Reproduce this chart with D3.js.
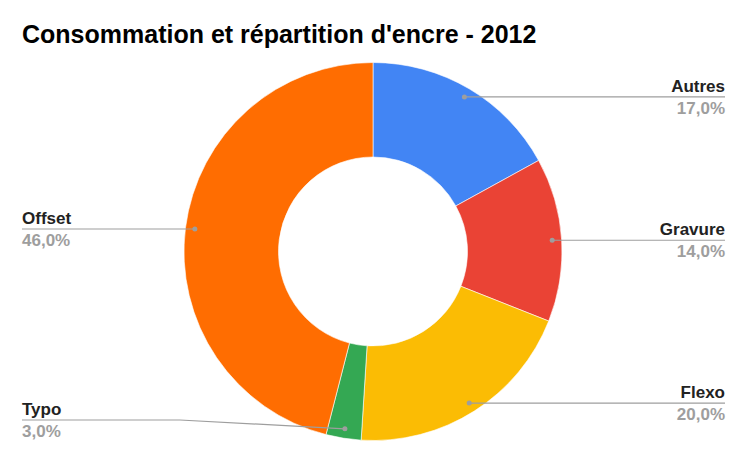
<!DOCTYPE html>
<html><head><meta charset="utf-8">
<script src="https://cdn.jsdelivr.net/npm/d3@7"></script>
<style>
html,body{margin:0;padding:0;background:#fff;}
svg{display:block;font-family:"Liberation Sans",Arial,sans-serif;}
</style></head>
<body><svg id="chart" width="745" height="463"></svg>
<script>
const title = "Consommation et répartition d'encre - 2012";
const categories = ["Autres", "Gravure", "Flexo", "Typo", "Offset"];
const values = [17.0, 14.0, 20.0, 3.0, 46.0];
const colors = ["#4285F4", "#EA4335", "#FBBC04", "#34A853", "#FF6D01"];

const W = 745, H = 463;
const cx = 373, cy = 251.5, R = 189, r = 94.5;
const svg = d3.select("#chart");

svg.append("text").attr("x", 22).attr("y", 43)
  .attr("font-size", 25).attr("font-weight", "bold").attr("fill", "#000")
  .text(title);

const data = categories.map((c, i) => ({name: c, value: values[i], color: colors[i]}));
const pie = d3.pie().value(d => d.value).sort(null);
const arcs = pie(data);
const arc = d3.arc().innerRadius(r).outerRadius(R);
const g = svg.append("g").attr("transform", `translate(${cx},${cy})`);
g.selectAll("path").data(arcs).join("path")
  .attr("d", arc).attr("fill", d => d.data.color)
  .attr("stroke", "#fff").attr("stroke-width", 0.6);

const fmt = v => v.toFixed(1).replace(".", ",") + "%";
const dotR = R * 0.95;
const lineCol = "#9e9e9e";
const maxY = 420;
arcs.forEach(a => {
  const mid = (a.startAngle + a.endAngle) / 2;
  const dx = cx + dotR * Math.sin(mid), dy = cy - dotR * Math.cos(mid);
  const right = Math.sin(mid) >= 0;
  const ly = Math.min(dy, maxY);
  const xEnd = right ? 725 : 22;
  let pts;
  if (Math.abs(ly - dy) > 0.5) {
    const bend = right ? dx + 165 : dx - 165;
    pts = [[dx, dy], [bend, ly], [xEnd, ly]];
  } else {
    pts = [[dx, dy], [xEnd, ly]];
  }
  svg.append("path").attr("d", d3.line()(pts))
    .attr("fill", "none").attr("stroke", lineCol).attr("stroke-width", 1.2);
  svg.append("circle").attr("cx", dx).attr("cy", dy).attr("r", 2.5).attr("fill", lineCol);
  const anchor = right ? "end" : "start";
  svg.append("text").attr("x", xEnd).attr("y", ly - 5)
    .attr("text-anchor", anchor).attr("font-size", 17).attr("font-weight", "bold")
    .attr("fill", "#222").text(a.data.name);
  svg.append("text").attr("x", xEnd).attr("y", ly + 17)
    .attr("text-anchor", anchor).attr("font-size", 17).attr("font-weight", "bold")
    .attr("fill", "#9e9e9e").text(fmt(a.data.value));
});
</script></body></html>
